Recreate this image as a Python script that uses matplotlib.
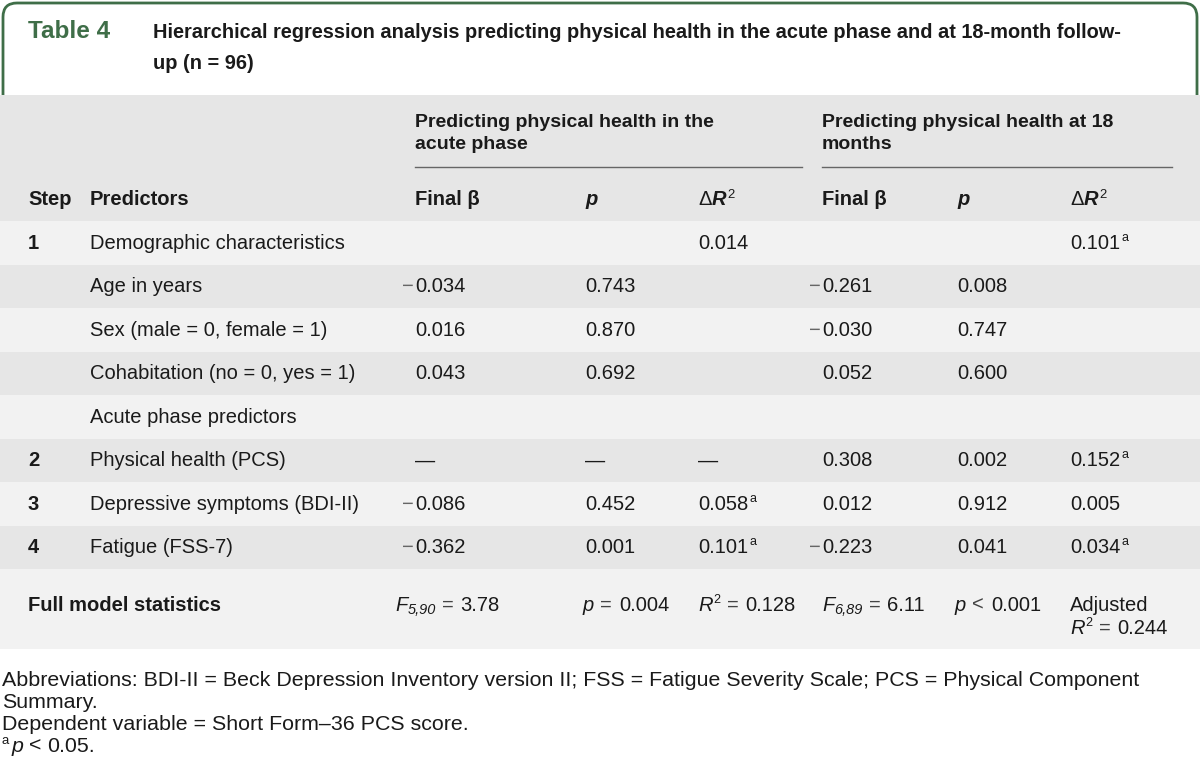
import matplotlib
matplotlib.use("Agg")
import matplotlib.pyplot as plt
from matplotlib.patches import Rectangle, FancyBboxPatch

# ── Table content ─────────────────────────────────────────────────────
TABLE_NO = "Table 4"
TITLE = ["Hierarchical regression analysis predicting physical health in the acute phase and at 18-month follow-",
         "up (n = 96)"]
GROUP_ACUTE = ["Predicting physical health in the", "acute phase"]
GROUP_18M = ["Predicting physical health at 18", "months"]

steps = ["1", "", "", "", "", "2", "3", "4"]
predictors = ["Demographic characteristics", "Age in years", "Sex (male = 0, female = 1)",
              "Cohabitation (no = 0, yes = 1)", "Acute phase predictors",
              "Physical health (PCS)", "Depressive symptoms (BDI-II)", "Fatigue (FSS-7)"]
beta_acute = ["", "−0.034", "0.016", "0.043", "", "—", "−0.086", "−0.362"]
p_acute = ["", "0.743", "0.870", "0.692", "", "—", "0.452", "0.001"]
dr2_acute = ["0.014", "", "", "", "", "—", "0.058", "0.101"]
dr2_acute_sig = [False, False, False, False, False, False, True, True]
beta_18m = ["", "−0.261", "−0.030", "0.052", "", "0.308", "0.012", "−0.223"]
p_18m = ["", "0.008", "0.747", "0.600", "", "0.002", "0.912", "0.041"]
dr2_18m = ["0.101", "", "", "", "", "0.152", "0.005", "0.034"]
dr2_18m_sig = [True, False, False, False, False, True, False, True]

# full model statistics
f_acute_df, f_acute = "5,90", "3.78"
p_acute_op, p_acute_full = "=", "0.004"
r2_acute = "0.128"
f_18m_df, f_18m = "6,89", "6.11"
p_18m_op, p_18m_full = "<", "0.001"
adj_r2_18m = "0.244"

FOOTNOTES = ["Abbreviations: BDI-II = Beck Depression Inventory version II; FSS = Fatigue Severity Scale; PCS = Physical Component",
             "Summary.",
             "Dependent variable = Short Form–36 PCS score."]

# ── Style ─────────────────────────────────────────────────────────────
plt.rcParams["font.family"] = ["Liberation Sans", "DejaVu Sans"]
FS = 14.5
FS_NOTE = 15.4
GREEN = "#3f6e48"
DARK = "#e6e6e6"
LIGHT = "#f2f2f2"
TXT = "#1a1a1a"

fig = plt.figure(figsize=(12, 7.8), dpi=100)
ax = fig.add_axes([0, 0, 1, 1])
ax.set_xlim(0, 1200)
ax.set_ylim(780, 0)
ax.axis("off")
renderer = fig.canvas.get_renderer()

BASE = 6  # baseline offset below row centre


def runs(x, y, parts, size=FS):
    """Draw a sequence of text pieces side by side on one baseline."""
    cx = x
    for s, kw in parts:
        kw = dict(kw)
        dy = kw.pop("dy", 0)
        gap = kw.pop("gap", 0)
        fs = kw.pop("size", size)
        cx += gap
        t = ax.text(cx, y + BASE + dy, s, fontsize=fs, va="baseline", ha="left",
                    color=kw.pop("color", TXT), zorder=5, **kw)
        cx += t.get_window_extent(renderer).width
    return cx


def number(x, y, s, sig=False):
    if not s:
        return
    if s.startswith("−"):
        ax.text(x - 1, y + BASE, "−", fontsize=FS, va="baseline", ha="right", color="#666666", zorder=5)
        s = s[1:]
    parts = [(s, {})]
    if sig:
        parts.append(("a", {"size": FS * 0.62, "dy": -8, "gap": 1}))
    runs(x, y, parts)


def stat(x, y, lead, mid, op, value):
    """e.g. F(sub) = value, R(sup) = value, p < value."""
    parts = [lead]
    if mid is not None:
        parts.append(mid)
    parts += [(op, {"gap": 6, "color": "#444444"}), (value, {"gap": 7})]
    runs(x, y, parts)


# ── Title box ─────────────────────────────────────────────────────────
box = FancyBboxPatch((3, 3), 1194, 150, boxstyle="round,pad=0,rounding_size=14",
                     facecolor="white", edgecolor=GREEN, linewidth=2, zorder=1)
ax.add_patch(box)
ax.text(28, 32 + BASE, TABLE_NO, fontsize=17.5, fontweight="bold", color=GREEN,
        va="baseline", zorder=5)
for i, line in enumerate(TITLE):
    ax.text(153, 32 + i * 31 + BASE, line, fontsize=14.4, fontweight="bold", color=TXT,
            va="baseline", zorder=5)

# ── Header band ───────────────────────────────────────────────────────
ax.add_patch(Rectangle((0, 95), 1200, 126, facecolor=DARK, edgecolor="none", zorder=2))

COLS = [415, 585, 698, 822, 957, 1070]
for x, lines in [(COLS[0], GROUP_ACUTE), (COLS[3], GROUP_18M)]:
    for i, line in enumerate(lines):
        ax.text(x, 121 + i * 22 + BASE, line, fontsize=14, fontweight="bold", color=TXT,
                va="baseline", zorder=5)
ax.plot([415, 802], [167, 167], color="#666666", lw=1, zorder=5)
ax.plot([822, 1172], [167, 167], color="#666666", lw=1, zorder=5)

hy = 199
bold = {"fontweight": "bold"}
bi = {"fontweight": "bold", "fontstyle": "italic"}
runs(28, hy, [("Step", bold)])
runs(90, hy, [("Predictors", bold)])
for k in (0, 3):
    runs(COLS[k], hy, [("Final β", bold)])
    runs(COLS[k + 1], hy, [("p", bi)])
    runs(COLS[k + 2], hy, [("Δ", {}), ("R", bi), ("2", {"size": FS * 0.65, "dy": -7, "gap": 1})])

# ── Body rows ─────────────────────────────────────────────────────────
top = 221.0
row_h = 43.5
for i in range(len(predictors)):
    y0 = top + i * row_h
    ax.add_patch(Rectangle((0, y0), 1200, row_h, facecolor=LIGHT if i % 2 == 0 else DARK,
                           edgecolor="none", zorder=2))
    yc = y0 + row_h / 2
    if steps[i]:
        runs(28, yc, [(steps[i], bold)])
    runs(90, yc, [(predictors[i], {})])
    number(COLS[0], yc, beta_acute[i])
    number(COLS[1], yc, p_acute[i])
    number(COLS[2], yc, dr2_acute[i], dr2_acute_sig[i])
    number(COLS[3], yc, beta_18m[i])
    number(COLS[4], yc, p_18m[i])
    number(COLS[5], yc, dr2_18m[i], dr2_18m_sig[i])

# full model row
y0 = top + len(predictors) * row_h
ax.add_patch(Rectangle((0, y0), 1200, 80, facecolor=LIGHT, edgecolor="none", zorder=2))
yc = 605
it = {"fontstyle": "italic"}
sub = {"fontstyle": "italic", "size": FS * 0.72, "dy": 3}
sup = {"size": FS * 0.62, "dy": -8, "gap": 1}
runs(28, yc, [("Full model statistics", bold)])
stat(395, yc, ("F", it), (f_acute_df, sub), "=", f_acute)
stat(COLS[1] - 2, yc, ("p", it), None, p_acute_op, p_acute_full)
stat(COLS[2], yc, ("R", it), ("2", sup), "=", r2_acute)
stat(COLS[3], yc, ("F", it), (f_18m_df, sub), "=", f_18m)
stat(COLS[4] - 2, yc, ("p", it), None, p_18m_op, p_18m_full)
runs(COLS[5], yc, [("Adjusted", {})])
stat(COLS[5], yc + 23, ("R", it), ("2", sup), "=", adj_r2_18m)

# ── Footnotes ─────────────────────────────────────────────────────────
for i, line in enumerate(FOOTNOTES):
    runs(2, 680 + i * 22, [(line, {})], size=FS_NOTE)
runs(2, 746, [("a", {"size": FS_NOTE * 0.62, "dy": -8}), ("p", {"fontstyle": "italic", "gap": 2}),
              ("<", {"gap": 6}), ("0.05.", {"gap": 6})], size=FS_NOTE)

fig.savefig("out.png", dpi=100)
